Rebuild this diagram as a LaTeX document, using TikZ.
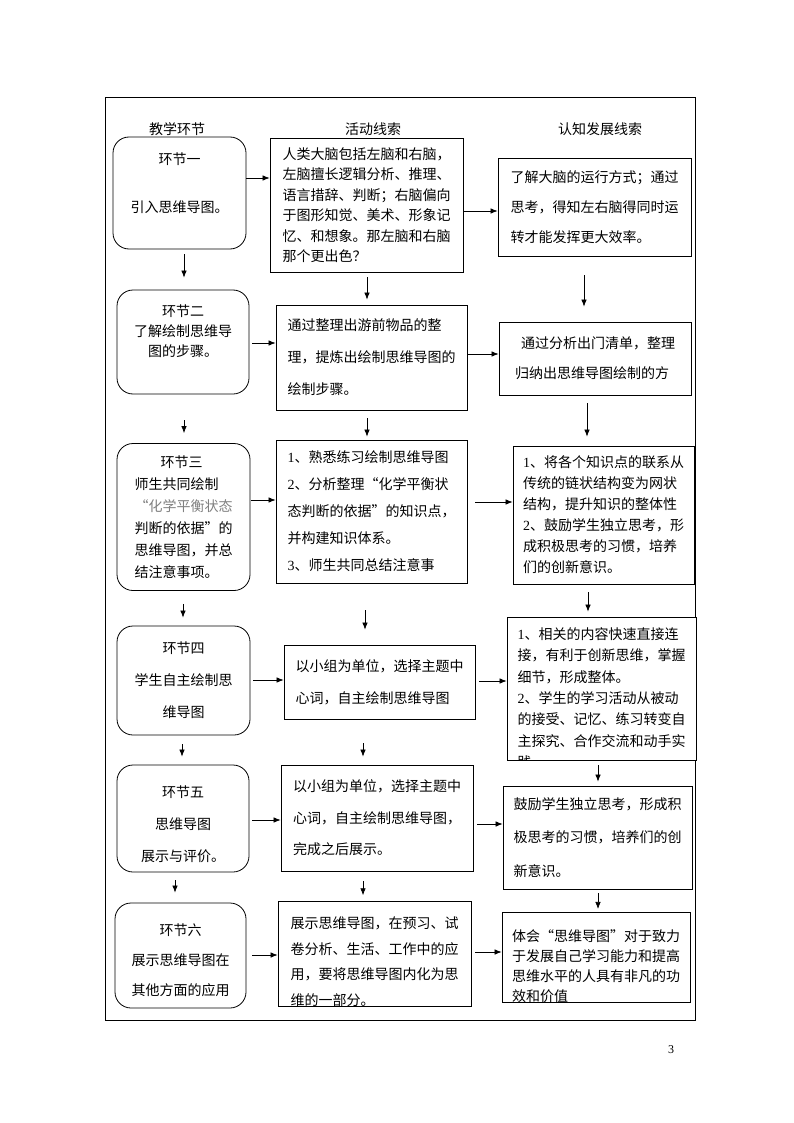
\documentclass[tikz,border=0pt]{standalone}
\usepackage{fontspec}
\setmainfont{Noto Sans CJK SC}
\newfontfamily\serifnum{Liberation Serif}
\usetikzlibrary{arrows.meta}
\newcommand{\digit}[1]{{\serifnum #1}}
\newcommand{\textlift}[1]{\\[#1]\mbox{}}
\newcommand{\textdrop}[1]{\mbox{}\\[#1]}

\begin{document}
\begin{tikzpicture}[x=1pt, y=-1pt, >={Latex[length=7pt, width=5.5pt]},
  lsp/.style={font=\fontsize{14}{#1}\selectfont},
  stage/.style={draw, fill=white, line width=0.8pt, rounded corners=16pt, align=center, inner sep=0pt},
  act/.style={draw, fill=white, line width=0.8pt, align=left, inner sep=0pt},
  arr/.style={->, line width=0.7pt}]
  \useasboundingbox (0,0) rectangle (794,1123);
  % outer frame of the table cell
  \draw[line width=0.8pt] (105,97) rectangle (695,1020);
  % column heads
  \node[lsp=20] (h1) at (177,129) {教学环节};
  \node[lsp=20] (h2) at (373,129) {活动线索};
  \node[lsp=20] (h3) at (600,129) {认知发展线索};
  % column 1: stages (rounded)
  \node[stage, lsp=24, minimum width=133pt, minimum height=112pt]
    (a1) at (179.5,193) {环节一\\[24pt]引入思维导图。\textlift{-3pt}};
  \node[stage, lsp=20, minimum width=132pt, minimum height=104pt]
    (a2) at (183,342) {环节二\\了解绘制思维导\\图的步骤。\textlift{2pt}};
  \node[stage, lsp=22, minimum width=133pt, minimum height=147pt, align=left]
    (a3) at (183.5,517) {\hspace*{26pt}环节三\\师生共同绘制\\{\color{black!50}“化学平衡状态}\\判断的依据”的\\思维导图，并总\\结注意事项。};
  \node[stage, lsp=32, minimum width=133pt, minimum height=109pt]
    (a4) at (183.5,680.5) {环节四\\学生自主绘制思\\维导图};
  \node[stage, lsp=32, minimum width=132pt, minimum height=107pt]
    (a5) at (183,818.5) {\textdrop{-9pt}环节五\\思维导图\\展示与评价。};
  \node[stage, lsp=30, minimum width=131pt, minimum height=105pt]
    (a6) at (180.5,955.5) {\textdrop{-9pt}环节六\\展示思维导图在\\其他方面的应用};
  % column 2: activities
  \node[act, lsp=20.5, minimum width=193pt, minimum height=134pt]
    (b1) at (366.5,205) {人类大脑包括左脑和右脑，\\左脑擅长逻辑分析、推理、\\语言措辞、判断；右脑偏向\\于图形知觉、美术、形象记\\忆、和想象。那左脑和右脑\\那个更出色？};
  \node[act, lsp=32, minimum width=191pt, minimum height=105pt]
    (b2) at (371.5,357.5) {通过整理出游前物品的整\\理，提炼出绘制思维导图的\\绘制步骤。};
  \node[act, lsp=27, minimum width=191pt, minimum height=143pt]
    (b3) at (371.5,511.5) {\digit{1}、熟悉练习绘制思维导图\\\digit{2}、分析整理“化学平衡状\\态判断的依据”的知识点，\\并构建知识体系。\\\digit{3}、师生共同总结注意事};
  \node[act, lsp=32, minimum width=191pt, minimum height=74pt]
    (b4) at (379.5,682) {以小组为单位，选择主题中\\心词，自主绘制思维导图};
  \node[act, lsp=31.5, minimum width=192pt, minimum height=106pt]
    (b5) at (377,818) {以小组为单位，选择主题中\\心词，自主绘制思维导图，\\完成之后展示。};
  \node[act, lsp=25.5, minimum width=193pt, minimum height=102pt]
    (b6) at (374.5,954) {\textdrop{1.5pt}展示思维导图，在预习、试\\卷分析、生活、工作中的应\\用，要将思维导图内化为思\\维的一部分。};
  % column 3: cognition
  \node[act, lsp=30, minimum width=193pt, minimum height=98pt]
    (c1) at (594.5,207) {了解大脑的运行方式；通过\\思考，得知左右脑得同时运\\转才能发挥更大效率。};
  \node[act, lsp=30, minimum width=192pt, minimum height=73pt]
    (c2) at (595,358.5) {\hspace*{6pt}通过分析出门清单，整理\\归纳出思维导图绘制的方};
  \node[act, lsp=21, minimum width=181pt, minimum height=138pt]
    (c3) at (603.5,515) {\digit{1}、将各个知识点的联系从\\传统的链状结构变为网状\\结构，提升知识的整体性\\\digit{2}、鼓励学生独立思考，形\\成积极思考的习惯，培养\\们的创新意识。};
  \node[act, minimum width=189pt, minimum height=143pt] (c4) at (601.5,688.5) {};
  \begin{scope}
    \clip (c4.south west) rectangle (c4.north east);
    \node[lsp=21.3, align=left, inner sep=0pt, anchor=north]
      (c4txt) at ([yshift=-11pt]c4.north) {\digit{1}、相关的内容快速直接连\\接，有利于创新思维，掌握\\细节，形成整体。\\\digit{2}、学生的学习活动从被动\\的接受、记忆、练习转变自\\主探究、合作交流和动手实\\践};
  \end{scope}
  \node[act, lsp=33.5, minimum width=189pt, minimum height=103pt]
    (c5) at (597.5,837.5) {鼓励学生独立思考，形成积\\极思考的习惯，培养们的创\\新意识。};
  \node[act, lsp=20, minimum width=188pt, minimum height=89pt]
    (c6) at (596,957.5) {\textdrop{9pt}体会“思维导图”对于致力\\于发展自己学习能力和提高\\思维水平的人具有非凡的功\\效和价值};
  % arrows across
  \draw[arr] (a1.east |- 0,178) -- (b1.west |- 0,178);
  \draw[arr] (b1.east |- 0,211) -- (c1.west |- 0,211);
  \draw[arr, shorten <=3pt] (a2.east |- 0,343) -- (b2.west |- 0,343);
  \draw[arr] (b2.east |- 0,354) -- (c2.west |- 0,354);
  \draw[arr, shorten <=1pt] (a3.east |- 0,500) -- (b3.west |- 0,500);
  \draw[arr, shorten <=8pt] (b3.east |- 0,502) -- (c3.west |- 0,502);
  \draw[arr, shorten <=3pt] (a4.east |- 0,680) -- (b4.west |- 0,680);
  \draw[arr, shorten <=4pt] (b4.east |- 0,681) -- (c4.west |- 0,681);
  \draw[arr, shorten <=3pt] (a5.east |- 0,820) -- (b5.west |- 0,820);
  \draw[arr, shorten <=4pt] (b5.east |- 0,824) -- (c5.west |- 0,824);
  \draw[arr, shorten <=6pt] (a6.east |- 0,955) -- (b6.west |- 0,955);
  \draw[arr, shorten <=4pt] (b6.east |- 0,952) -- (c6.west |- 0,952);
  % arrows down, column 1
  \draw[arr, shorten <=5pt, shorten >=12pt] (a1.south -| 184,0) -- (a2.north -| 184,0);
  \draw[arr, shorten <=26pt, shorten >=10pt] (a2.south -| 184,0) -- (a3.north -| 184,0);
  \draw[arr, shorten <=13pt, shorten >=8pt] (a3.south -| 183,0) -- (a4.north -| 183,0);
  \draw[arr, shorten <=9pt, shorten >=8pt] (a4.south -| 182,0) -- (a5.north -| 182,0);
  \draw[arr, shorten <=8pt, shorten >=10pt] (a5.south -| 175,0) -- (a6.north -| 175,0);
  % arrows down, column 2
  \draw[arr, shorten <=5pt, shorten >=5pt] (b1.south -| 367,0) -- (b2.north -| 367,0);
  \draw[arr, shorten <=8pt, shorten >=3pt] (b2.south -| 367,0) -- (b3.north -| 367,0);
  \draw[arr, shorten <=27pt, shorten >=15pt] (b3.south -| 365,0) -- (b4.north -| 365,0);
  \draw[arr, shorten <=24pt, shorten >=8pt] (b4.south -| 363,0) -- (b5.north -| 363,0);
  \draw[arr, shorten <=10pt, shorten >=6pt] (b5.south -| 363,0) -- (b6.north -| 363,0);
  % arrows down, column 3
  \draw[arr, shorten <=19pt, shorten >=15pt] (c1.south -| 584,0) -- (c2.north -| 584,0);
  \draw[arr, shorten <=8pt, shorten >=9pt] (c2.south -| 587,0) -- (c3.north -| 587,0);
  \draw[arr, shorten <=8pt, shorten >=5pt] (c3.south -| 588,0) -- (c4.north -| 588,0);
  \draw[arr, shorten <=5pt, shorten >=4pt] (c4.south -| 598,0) -- (c5.north -| 598,0);
  \draw[arr, shorten <=4pt, shorten >=3pt] (c5.south -| 598,0) -- (c6.north -| 598,0);
  % page number
  \node[font=\serifnum\fontsize{12}{14}\selectfont] (pg) at (671,1050) {3};
\end{tikzpicture}
\end{document}
